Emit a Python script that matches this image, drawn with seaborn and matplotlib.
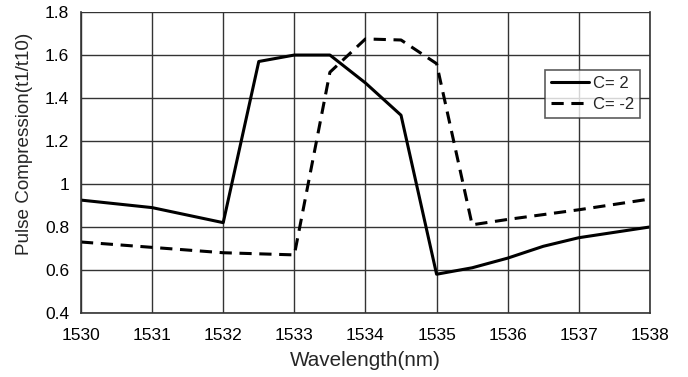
import matplotlib
matplotlib.use("Agg")
import matplotlib.pyplot as plt
import seaborn as sns
import pandas as pd

wl_pos = [1530, 1531, 1532, 1532.5, 1533, 1533.5, 1534, 1534.5, 1535, 1535.5, 1536, 1536.5, 1537, 1538]
c_pos = [0.925, 0.89, 0.82, 1.57, 1.60, 1.60, 1.47, 1.32, 0.58, 0.61, 0.655, 0.71, 0.75, 0.80]
wl_neg = [1530, 1531, 1532, 1533, 1533.5, 1534, 1534.5, 1535, 1535.5, 1536, 1537, 1538]
c_neg = [0.73, 0.705, 0.68, 0.67, 1.52, 1.675, 1.67, 1.56, 0.81, 0.835, 0.88, 0.93]
labels = ["C= 2", "C= -2"]

df = pd.concat([
    pd.DataFrame({"wl": wl_pos, "pc": c_pos, "series": labels[0]}),
    pd.DataFrame({"wl": wl_neg, "pc": c_neg, "series": labels[1]}),
])

sns.set_style("white")
plt.rcParams["font.family"] = ["Liberation Sans", "DejaVu Sans"]

fig = plt.figure(figsize=(6.88, 3.77), dpi=100)
ax = fig.add_axes([0.1177, 0.170, 0.827, 0.798])

sns.lineplot(data=df, x="wl", y="pc", style="series", hue="series",
             palette={labels[0]: "black", labels[1]: "black"},
             dashes={labels[0]: "", labels[1]: (4, 2.5)},
             linewidth=2.2, ax=ax, sort=False, estimator=None)

ax.set_xlim(1530, 1538)
ax.set_ylim(0.4, 1.8)
ax.set_xticks(range(1530, 1539))
ax.set_xticklabels([str(v) for v in range(1530, 1539)])
yt = [0.4, 0.6, 0.8, 1.0, 1.2, 1.4, 1.6, 1.8]
ax.set_yticks(yt)
ax.set_yticklabels(["0.4", "0.6", "0.8", "1", "1.2", "1.4", "1.6", "1.8"])
ax.grid(True, color="#333333", linewidth=1.0)
ax.spines["top"].set_visible(False)
for s in ["left", "bottom", "right"]:
    ax.spines[s].set_color("#333333")
    ax.spines[s].set_linewidth(1.2)
ax.tick_params(axis="both", labelsize=12.5, colors="black", length=5, width=1.0, direction="out")
ax.tick_params(axis="x", direction="inout", length=8, pad=7)
ax.set_xlabel("Wavelength(nm)", fontsize=14.9)
ax.xaxis.set_label_coords(0.5, -0.125)
ax.set_ylabel("Pulse Compression(t1/t10)", fontsize=13.6)
ax.yaxis.set_label_coords(-0.085, 0.561)

leg = ax.legend(loc="upper left", bbox_to_anchor=(0.815, 0.807), frameon=True, fancybox=False,
                edgecolor="#333333", fontsize=12, handlelength=2.3, handletextpad=0.25,
                borderpad=0.35, labelspacing=0.35, borderaxespad=0)
leg.get_frame().set_linewidth(1.2)

fig.savefig("out.png", dpi=100)
